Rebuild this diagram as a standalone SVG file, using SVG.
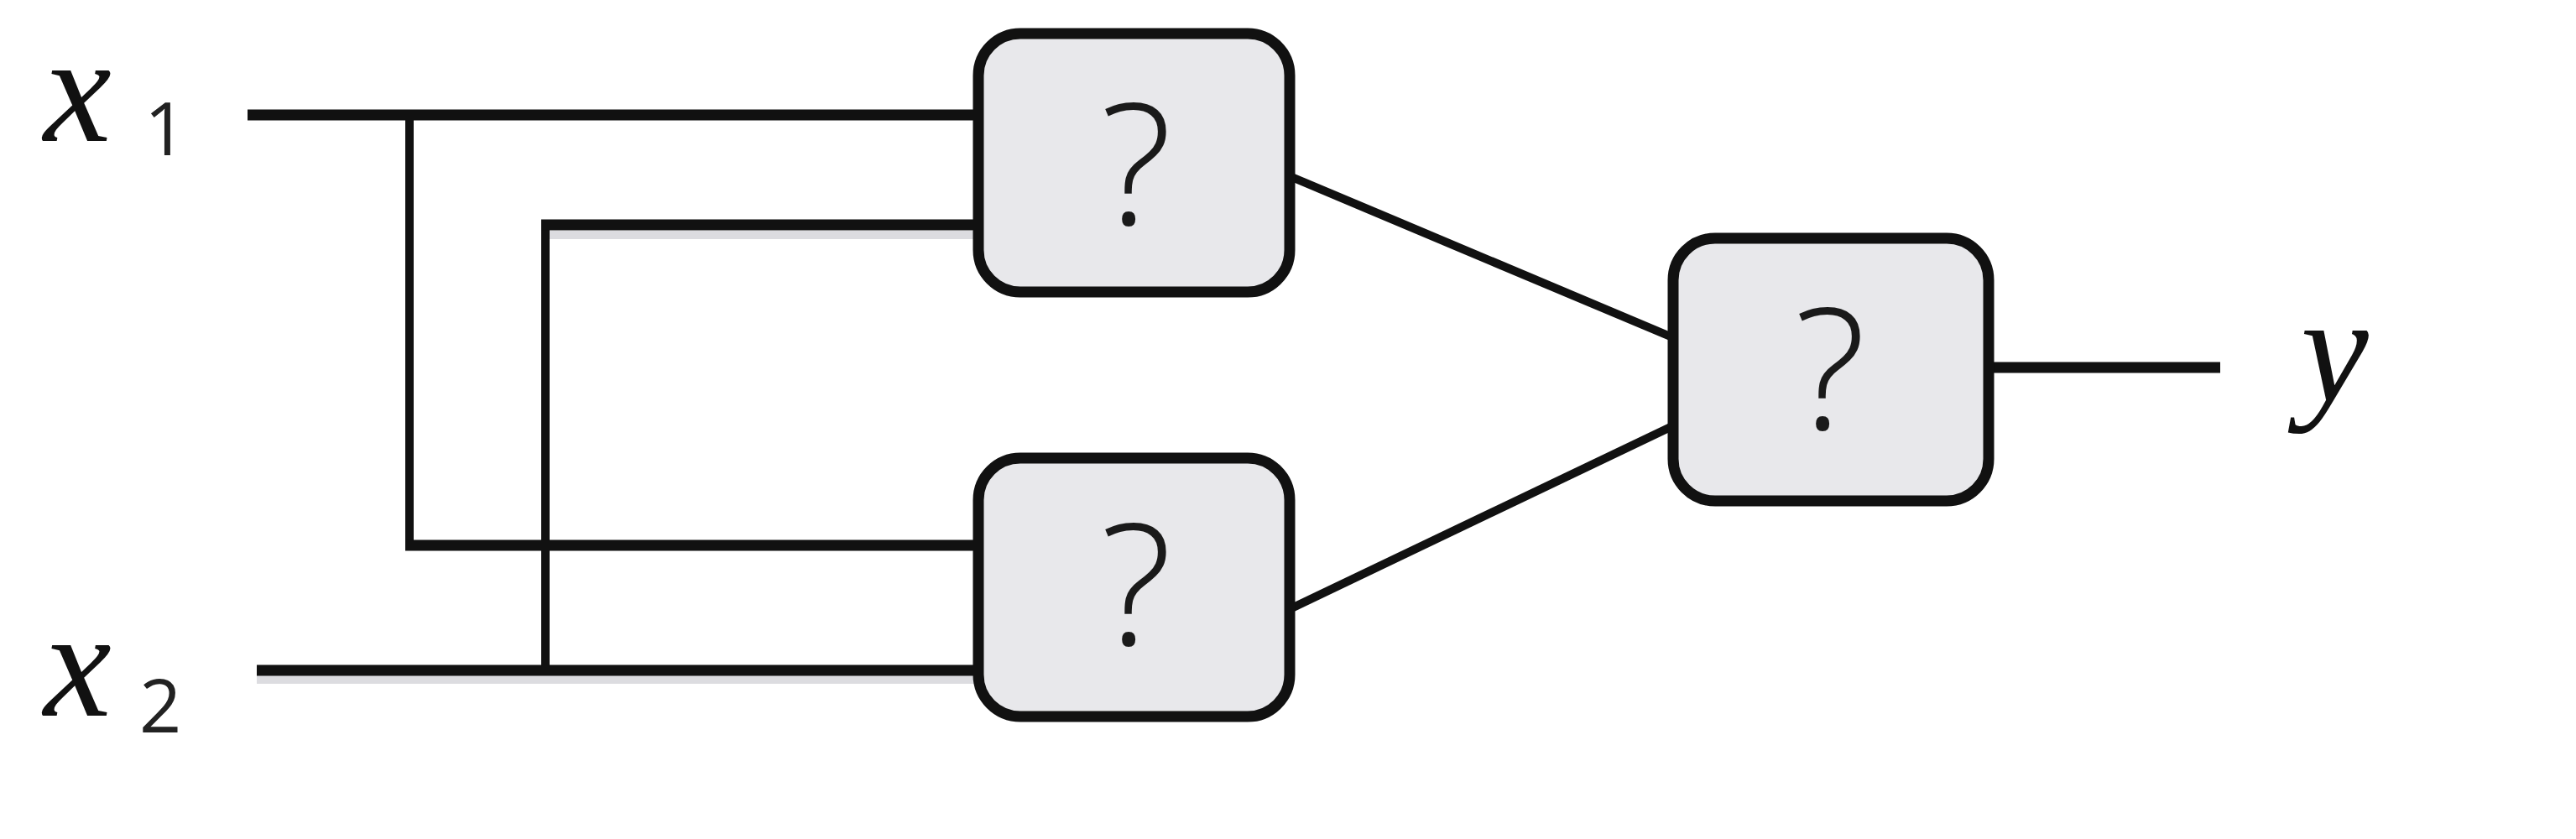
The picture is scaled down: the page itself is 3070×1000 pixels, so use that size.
<svg xmlns="http://www.w3.org/2000/svg" width="3070" height="1000" viewBox="0 0 3070 1000">
<style>
.box{fill:#e8e8eb;stroke:#111;stroke-width:13}
.q{font-family:"Open Sans","Liberation Sans",sans-serif;font-weight:300;font-size:202px;fill:#1a1a1a;text-anchor:middle}
.var{font-family:"Liberation Serif",serif;font-style:italic;font-size:182px;fill:#111}
.sub{font-family:"Open Sans","Liberation Sans",sans-serif;font-weight:400;font-size:88px;fill:#222}
.h{stroke:#111;stroke-width:13;fill:none;stroke-linecap:butt}
.v{stroke:#111;stroke-width:10;fill:none}
.d{stroke:#111;stroke-width:10;fill:none}
.sh{stroke:#dcdce0;stroke-width:10;fill:none}
</style>
<rect width="3070" height="1000" fill="#fff"/>
<g id="connectors">
  <line class="sh" x1="306" y1="810" x2="1165" y2="810"/>
  <line class="sh" x1="655" y1="280" x2="1165" y2="280"/>
  <line class="h" x1="295" y1="137" x2="1170" y2="137"/>
  <line class="v" x1="488" y1="137" x2="488" y2="656"/>
  <line class="h" x1="483" y1="650" x2="1170" y2="650"/>
  <line class="h" x1="306" y1="799" x2="1170" y2="799"/>
  <line class="v" x1="650" y1="799" x2="650" y2="262"/>
  <line class="h" x1="645" y1="268" x2="1170" y2="268"/>
  <line class="d" x1="1537" y1="210" x2="1993" y2="402"/>
  <line class="d" x1="1537" y1="726" x2="1993" y2="508"/>
  <line class="h" x1="2372" y1="438" x2="2646" y2="438"/>
</g>
<g id="gate1">
  <rect class="box" x="1166" y="40" width="371" height="308" rx="50"/>
  <text class="q" x="1354" y="268">?</text>
</g>
<g id="gate2">
  <rect class="box" x="1166" y="546" width="371" height="308" rx="50"/>
  <text class="q" x="1354" y="769">?</text>
</g>
<g id="gate3">
  <rect class="box" x="1994" y="284" width="376" height="313" rx="50"/>
  <text class="q" x="2181" y="512">?</text>
</g>
<g id="label-x1">
  <text class="var" x="52" y="168">x</text>
  <text class="sub" x="172" y="185">1</text>
</g>
<g id="label-x2">
  <text class="var" x="52" y="853">x</text>
  <text class="sub" x="166" y="873">2</text>
</g>
<g id="label-y">
  <text class="var" x="2742" y="478">y</text>
</g>
</svg>
